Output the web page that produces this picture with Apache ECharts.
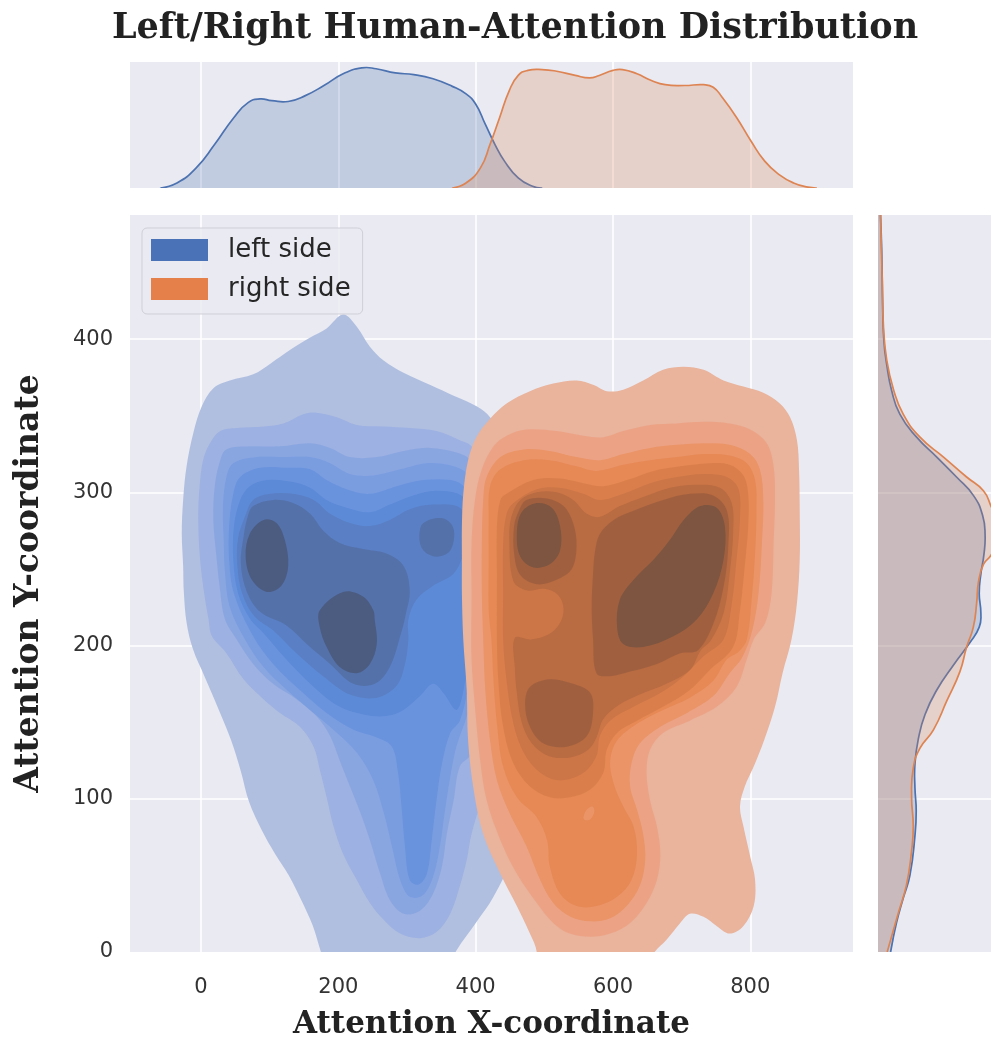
<!DOCTYPE html>
<html>
<head>
<meta charset="utf-8">
<script src="https://cdn.jsdelivr.net/npm/echarts@6/dist/echarts.min.js"></script>
<style>
  html, body { margin: 0; padding: 0; background: #ffffff; }
  #chart { width: 991px; height: 1038px; }
</style>
</head>
<body>
<div id="chart"></div>
<script>
// ---------------- Joint density: left-side attention (blue), bands outermost first ----------------
// Each band is a closed contour outline given as [x, y] in data units.
const leftBand1 = [[181,-8],[174,1],[163,17],[146,34],[128,50],[108,64],[88,80],[70,98],[58,118],[44,138],[26,158],[5,180],[-12,198],[-21,215],[-25,235],[-26,252],[-28,273],[-26,295],[-21,317],[-11,339],[1,356],[18,368],[42,373],[76,377],[101,384],[130,393],[159,401],[183,407],[207,416],[227,408],[246,395],[266,386],[295,378],[334,370],[368,363],[402,356],[421,349],[445,330],[460,290],[465,230],[465,160],[460,100],[450,60],[426,36],[402,20],[372,1],[362,-8]];
const leftBand2 = [[28,340],[52,342],[91,343],[120,345],[149,351],[168,352],[198,349],[227,344],[266,343],[304,342],[343,340],[377,334],[394,330],[415,310],[425,250],[425,180],[420,120],[394,77],[387,60],[377,43],[363,25],[343,13],[319,9],[290,12],[266,21],[246,32],[227,47],[207,64],[193,82],[183,101],[173,119],[164,134],[144,147],[115,156],[91,165],[62,178],[37,195],[16,206],[11,217],[3,239],[-2,260],[-4,284],[-2,304],[3,321],[13,332]];
const leftBand3 = [[37,328],[71,330],[115,330],[159,332],[188,329],[217,323],[256,323],[295,327],[334,329],[372,326],[392,321],[410,300],[420,240],[415,170],[395,130],[377,121],[368,99],[358,77],[351,56],[338,38],[319,27],[295,25],[275,34],[261,51],[246,73],[232,91],[217,108],[202,125],[188,141],[168,154],[139,165],[105,175],[76,188],[52,204],[35,217],[27,239],[22,260],[18,282],[20,304],[28,321]];
const leftBand4 = [[47,319],[81,323],[120,323],[159,323],[188,319],[217,312],[251,311],[290,315],[329,319],[368,317],[387,312],[405,290],[410,240],[400,180],[388,155],[372,134],[363,114],[355,91],[348,69],[338,49],[323,37],[304,36],[290,47],[278,69],[266,91],[251,112],[227,130],[198,143],[164,156],[125,171],[91,186],[64,204],[42,225],[35,247],[33,269],[32,291],[37,310]];
const leftBand5 = [[57,310],[86,316],[125,316],[159,315],[183,308],[212,302],[246,299],[285,304],[324,308],[363,308],[382,304],[400,285],[405,240],[395,190],[388,170],[377,151],[363,143],[351,123],[343,99],[336,73],[329,51],[317,44],[304,47],[297,69],[292,95],[287,117],[278,134],[256,140],[222,145],[183,156],[144,171],[105,188],[76,206],[48,234],[41,256],[41,278],[47,299]];
const leftBand6 = [[57,295],[71,304],[96,308],[130,307],[159,303],[183,295],[212,290],[246,287],[275,292],[309,298],[343,301],[382,297],[398,280],[400,240],[392,200],[382,170],[372,158],[353,169],[338,175],[319,167],[295,158],[270,154],[236,155],[198,161],[159,175],[120,193],[91,208],[72,217],[54,234],[47,256],[48,278]];
const leftBand7 = [[64,284],[76,295],[101,299],[134,299],[164,295],[188,286],[217,280],[246,278],[275,282],[304,289],[338,292],[377,290],[387,276],[382,260],[368,247],[338,239],[314,230],[302,217],[302,204],[297,188],[285,174],[256,166],[217,168],[178,180],[139,195],[105,210],[78,219],[60,234],[53,252],[54,270]];
const leftBand8 = [[68,284],[76,291],[105,295],[134,293],[159,286],[178,275],[202,267],[236,263],[270,260],[295,252],[304,236],[298,220],[292,209],[275,186],[253,175],[222,175],[188,188],[154,201],[125,213],[86,222],[66,236],[58,254],[62,271]];
const leftBand8Spot = [[324,280],[353,283],[368,276],[363,262],[343,258],[324,262],[318,271]];
const leftPeakUpper = [[91,282],[110,280],[122,269],[127,252],[117,239],[96,235],[74,243],[65,258],[71,273]];
const leftPeakLower = [[207,235],[236,232],[251,223],[253,217],[256,201],[246,188],[227,182],[202,186],[183,199],[173,212],[173,223]];

// ---------------- Joint density: right-side attention (orange), bands outermost first ----------------
const rightBand1 = [[380,278],[382,299],[389,321],[401,336],[421,348],[445,358],[479,366],[513,371],[547,373],[572,370],[591,366],[615,367],[644,373],[673,380],[703,382],[732,380],[761,373],[790,369],[819,365],[843,358],[858,349],[868,334],[871,315],[872,289],[872,256],[868,228],[860,204],[847,182],[836,160],[820,138],[805,121],[792,108],[785,95],[790,82],[800,62],[807,47],[805,30],[790,17],[770,12],[751,17],[732,23],[712,25],[698,19],[678,8],[659,-1],[654,-8],[484,-8],[489,0],[479,12],[460,30],[436,51],[411,77],[397,106],[389,138],[387,171],[382,204],[380,234],[380,256]];
const rightBand2 = [[394,234],[394,267],[399,295],[409,315],[426,330],[445,337],[474,341],[518,340],[557,337],[586,336],[615,340],[654,344],[693,345],[732,346],[770,345],[800,341],[824,332],[834,317],[836,295],[834,267],[831,234],[822,215],[805,204],[795,191],[780,173],[751,160],[712,151],[673,143],[654,132],[649,117],[654,99],[664,82],[669,64],[664,47],[649,32],[625,19],[596,12],[567,10],[537,12],[513,19],[489,32],[460,51],[436,73],[416,99],[406,127],[399,160],[394,191]];
const rightBand3 = [[411,295],[416,310],[436,323],[470,328],[508,327],[547,323],[581,321],[615,325],[654,329],[693,331],[732,332],[770,331],[800,325],[814,315],[819,295],[817,267],[812,234],[803,210],[788,192],[770,182],[746,167],[708,156],[669,147],[639,136],[627,123],[625,108],[635,93],[644,77],[647,60],[639,43],[620,30],[596,22],[567,20],[538,23],[513,32],[494,47],[474,69],[450,90],[431,112],[421,138],[414,171],[411,204],[409,234],[409,267]];
const rightBand4 = [[419,282],[421,304],[436,315],[470,321],[508,321],[547,317],[576,314],[615,318],[654,321],[693,323],[732,325],[770,324],[795,319],[807,308],[809,289],[807,260],[802,230],[795,204],[783,196],[766,191],[746,177],[712,166],[673,158],[635,149],[606,138],[596,125],[601,110],[615,95],[630,82],[635,64],[627,47],[606,36],[576,30],[547,30],[523,38],[508,56],[504,73],[489,88],[460,101],[440,121],[431,149],[426,177],[423,204],[419,223],[419,256]];
const rightBand4Gap = [[557,88],[562,93],[570,95],[573,92],[568,87],[560,86]];
const rightBand5 = [[431,278],[436,295],[445,299],[484,308],[523,309],[557,306],[586,304],[620,308],[659,314],[698,317],[741,319],[770,318],[790,311],[797,299],[797,278],[792,252],[785,223],[775,199],[741,184],[712,171],[673,160],[635,151],[606,143],[591,132],[586,117],[567,106],[538,101],[508,101],[479,108],[455,123],[440,147],[433,177],[431,204],[431,245]];
const rightBand6 = [[440,267],[445,286],[455,293],[489,302],[523,303],[557,299],[581,295],[615,299],[654,306],[693,310],[732,312],[766,310],[783,302],[785,282],[780,256],[773,227],[761,204],[732,193],[703,180],[669,169],[630,160],[596,151],[581,141],[576,128],[557,117],[523,112],[494,117],[470,130],[455,149],[445,177],[440,204],[440,234]];
const rightBand7 = [[449,269],[452,284],[465,295],[489,300],[518,300],[542,295],[562,286],[581,284],[610,291],[644,297],[683,303],[722,305],[756,303],[773,293],[775,273],[770,247],[761,221],[742,203],[728,197],[712,184],[678,175],[639,168],[608,161],[586,152],[576,140],[564,132],[538,127],[506,128],[482,136],[467,150],[460,169],[457,186],[457,205],[480,204],[505,207],[522,214],[528,224],[520,233],[500,237],[475,236],[455,242]];
const rightBand8Upper = [[463,288],[474,295],[504,296],[528,291],[542,280],[547,265],[540,250],[518,243],[489,240],[465,246],[456,260],[456,278]];
const rightBand8Main = [[581,273],[601,282],[630,288],[673,295],[712,299],[746,298],[766,288],[768,265],[761,238],[746,214],[724,197],[698,195],[664,188],[625,183],[596,180],[576,182],[571,204],[569,225],[571,247],[574,262]];
const rightBand8Lower = [[479,173],[508,178],[542,175],[567,169],[571,156],[562,141],[533,134],[499,136],[479,147],[472,162]];
const rightPeakUpper = [[489,293],[511,290],[523,278],[523,262],[508,253],[484,251],[465,258],[460,273],[467,287]];
const rightPeakMain = [[727,291],[751,290],[763,278],[761,256],[746,234],[722,217],[688,206],[644,199],[615,201],[606,212],[610,230],[630,243],[659,256],[683,269],[703,282]];

// ---------------- Marginal densities (×10⁻³) ----------------
// along x (top panel)
const leftTopX = [-59,-35,-7,20,48,69,86,103,127,152,179,207,234,255,283,310,338,366,386,400,414,428,442,462,483,497];
const leftTopDensity = [0,0.06,0.24,0.52,0.84,1.02,1.06,1.04,1.03,1.10,1.22,1.36,1.43,1.42,1.37,1.35,1.30,1.21,1.12,1.00,0.76,0.52,0.32,0.12,0.02,0];
const rightTopX = [366,386,407,421,435,449,462,476,497,518,545,566,580,600,614,635,656,676,704,732,746,759,780,801,821,842,863,884,897];
const rightTopDensity = [0,0.06,0.24,0.52,0.84,1.16,1.34,1.40,1.41,1.39,1.34,1.31,1.34,1.40,1.41,1.36,1.28,1.23,1.22,1.23,1.20,1.08,0.84,0.56,0.32,0.16,0.06,0.01,0];
// along y (right panel)
const leftSideY = [481,456,424,399,383,367,351,336,323,310,298,285,272,259,247,234,221,212,202,187,171,155,139,123,107,92,76,50,35,19,0];
const leftSideDensity = [0.06,0.09,0.11,0.14,0.21,0.32,0.52,0.92,1.40,1.87,2.27,2.49,2.55,2.52,2.45,2.41,2.45,2.41,2.19,1.79,1.40,1.12,0.96,0.88,0.88,0.91,0.88,0.76,0.60,0.44,0.30];
const rightSideY = [481,440,408,386,367,351,336,323,310,301,291,280,268,259,253,241,228,212,199,183,164,145,133,120,101,82,66,44,25,3,0];
const rightSideDensity = [0.06,0.10,0.13,0.21,0.37,0.60,1.00,1.56,2.11,2.51,2.69,2.85,2.82,2.69,2.51,2.39,2.35,2.27,2.11,1.95,1.64,1.32,1.00,0.84,0.80,0.84,0.80,0.68,0.48,0.25,0.22];

const seriesNames = ['left side', 'right side'];

// ---------------- Styling ----------------
const leftShades = ['#b0bfe0','#9db1e2','#8aa6e1','#7a9de0','#6a93dd','#5c8ad7','#5a7fc4','#5471a9','#4c5c80'];
const rightShades = ['#e9b39c','#eca385','#ea9468','#e68955','#da7f4c','#cc7647','#b96b42','#a0603f','#7d5541'];
const leftLine = '#4c72b0';
const rightLine = '#dd8452';
const panelBg = '#eaeaf2';

const leftContours = [
  { shade: 0, pts: leftBand1 }, { shade: 1, pts: leftBand2 }, { shade: 2, pts: leftBand3 },
  { shade: 3, pts: leftBand4 }, { shade: 4, pts: leftBand5 }, { shade: 5, pts: leftBand6 },
  { shade: 6, pts: leftBand7 }, { shade: 7, pts: leftBand8 }, { shade: 7, pts: leftBand8Spot },
  { shade: 8, pts: leftPeakUpper }, { shade: 8, pts: leftPeakLower }
];
const rightContours = [
  { shade: 0, pts: rightBand1 }, { shade: 1, pts: rightBand2 }, { shade: 2, pts: rightBand3 },
  { shade: 3, pts: rightBand4 }, { shade: 2, pts: rightBand4Gap }, { shade: 4, pts: rightBand5 },
  { shade: 5, pts: rightBand6 }, { shade: 6, pts: rightBand7 }, { shade: 7, pts: rightBand8Upper },
  { shade: 7, pts: rightBand8Main }, { shade: 7, pts: rightBand8Lower },
  { shade: 8, pts: rightPeakUpper }, { shade: 8, pts: rightPeakMain }
];

function contourSeries(name, contours, shades, legendColor, z) {
  return {
    type: 'custom',
    name: name,
    xAxisIndex: 0, yAxisIndex: 0,
    z: z, clip: true, silent: true,
    itemStyle: { color: legendColor },
    data: contours.map((c, i) => [i]),
    renderItem: function (params, api) {
      const c = contours[params.dataIndex];
      return {
        type: 'polygon',
        shape: { points: c.pts.map(p => api.coord(p)), smooth: 0.35 },
        style: { fill: shades[c.shade] }
      };
    }
  };
}

// density curve along x in the top panel
function topMarginSeries(name, xs, ds, color, z) {
  return {
    type: 'custom', name: name,
    xAxisIndex: 1, yAxisIndex: 1, z: z, clip: true, silent: true,
    data: [[0]],
    renderItem: function (params, api) {
      const pts = xs.map((x, i) => api.coord([x, ds[i]]));
      return {
        type: 'group',
        children: [
          { type: 'polygon', shape: { points: pts, smooth: 0.5 }, style: { fill: color, opacity: 0.25 } },
          { type: 'polyline', shape: { points: pts, smooth: 0.5 }, style: { stroke: color, lineWidth: 1.7, fill: null } }
        ]
      };
    }
  };
}

// density curve along y in the right panel
function sideMarginSeries(name, ys, ds, color, z) {
  return {
    type: 'custom', name: name,
    xAxisIndex: 2, yAxisIndex: 2, z: z, clip: true, silent: true,
    data: [[0]],
    renderItem: function (params, api) {
      const pts = ys.map((y, i) => api.coord([ds[i], y]));
      const area = [api.coord([0, ys[0] + 20])].concat(pts, [api.coord([0, ys[ys.length - 1] - 20])]);
      return {
        type: 'group',
        children: [
          { type: 'polygon', shape: { points: area, smooth: 0.5 }, style: { fill: color, opacity: 0.25 } },
          { type: 'polyline', shape: { points: pts, smooth: 0.5 }, style: { stroke: color, lineWidth: 1.7, fill: null } }
        ]
      };
    }
  };
}

const whiteGrid = { show: true, lineStyle: { color: '#ffffff', width: 1.6 }, showMinLine: false, showMaxLine: false };
const tickText = { fontFamily: 'DejaVu Sans', fontSize: 21, color: '#333333' };
const xTitleFont = { fontFamily: 'DejaVu Serif', fontWeight: 'bold', fontSize: 31, color: '#222222' };
const yTitleFont = { fontFamily: 'DejaVu Serif', fontWeight: 'bold', fontSize: 33, color: '#222222' };

const X_MIN = -103.4, X_MAX = 949.6, Y_MIN = 0, Y_MAX = 481;

const option = {
  backgroundColor: '#ffffff',
  animation: false,
  grid: [
    { left: 130, top: 215, width: 723, height: 737, show: true, backgroundColor: panelBg, borderWidth: 0, outerBoundsMode: 'none' },
    { left: 130, top: 62, width: 723, height: 126, show: true, backgroundColor: panelBg, borderWidth: 0, outerBoundsMode: 'none' },
    { left: 878, top: 215, width: 126, height: 737, show: true, backgroundColor: panelBg, borderWidth: 0, outerBoundsMode: 'none' }
  ],
  xAxis: [
    {
      gridIndex: 0, type: 'value', min: X_MIN, max: X_MAX, splitNumber: 5,
      axisLine: { show: false }, axisTick: { show: false },
      axisLabel: Object.assign({ margin: 25, showMinLabel: false, showMaxLabel: false }, tickText),
      splitLine: whiteGrid,
      name: 'Attention X-coordinate', nameLocation: 'middle', nameGap: 57,
      nameTextStyle: xTitleFont
    },
    {
      gridIndex: 1, type: 'value', min: X_MIN, max: X_MAX, splitNumber: 5,
      axisLine: { show: false }, axisTick: { show: false }, axisLabel: { show: false },
      splitLine: whiteGrid
    },
    { gridIndex: 2, type: 'value', min: 0, max: 3.0, show: false, splitLine: { show: false } }
  ],
  yAxis: [
    {
      gridIndex: 0, type: 'value', min: Y_MIN, max: Y_MAX, interval: 100,
      axisLine: { show: false }, axisTick: { show: false },
      axisLabel: Object.assign({ margin: 17, showMaxLabel: false }, tickText),
      splitLine: whiteGrid,
      name: 'Attention Y-coordinate', nameLocation: 'middle', nameGap: 84, nameRotate: 90,
      nameTextStyle: yTitleFont
    },
    { gridIndex: 1, type: 'value', min: 0, max: 1.5, show: false, splitLine: { show: false } },
    {
      gridIndex: 2, type: 'value', min: Y_MIN, max: Y_MAX, interval: 100,
      axisLine: { show: false }, axisTick: { show: false }, axisLabel: { show: false },
      splitLine: whiteGrid
    }
  ],
  legend: {
    left: 142, top: 228, orient: 'vertical',
    itemWidth: 57, itemHeight: 22, itemGap: 13,
    padding: [9, 12, 12, 9],
    backgroundColor: 'rgba(234,234,242,0.85)', borderColor: '#cfcfd8', borderWidth: 1, borderRadius: 5,
    icon: 'rect',
    textStyle: { fontFamily: 'DejaVu Sans', fontSize: 26, color: '#262626', padding: [0, 0, 0, 15] },
    data: [
      { name: seriesNames[0], itemStyle: { color: '#4a72b6' } },
      { name: seriesNames[1], itemStyle: { color: '#e5804b' } }
    ],
    selectedMode: false
  },
  graphic: [
    {
      type: 'text', x: 515, y: 29, z: 10,
      style: {
        text: 'Left/Right Human-Attention Distribution',
        font: 'bold 35px "DejaVu Serif"', fill: '#222222',
        textAlign: 'center', textVerticalAlign: 'middle'
      }
    }
  ],
  series: [
    contourSeries(seriesNames[0], leftContours, leftShades, '#4a72b6', 2),
    contourSeries(seriesNames[1], rightContours, rightShades, '#e5804b', 3),
    topMarginSeries('left margin x', leftTopX, leftTopDensity, leftLine, 2),
    topMarginSeries('right margin x', rightTopX, rightTopDensity, rightLine, 3),
    sideMarginSeries('left margin y', leftSideY, leftSideDensity, leftLine, 2),
    sideMarginSeries('right margin y', rightSideY, rightSideDensity, rightLine, 3)
  ]
};

const chart = echarts.init(document.getElementById('chart'), null, { renderer: 'canvas' });
chart.setOption(option);
</script>
</body>
</html>
